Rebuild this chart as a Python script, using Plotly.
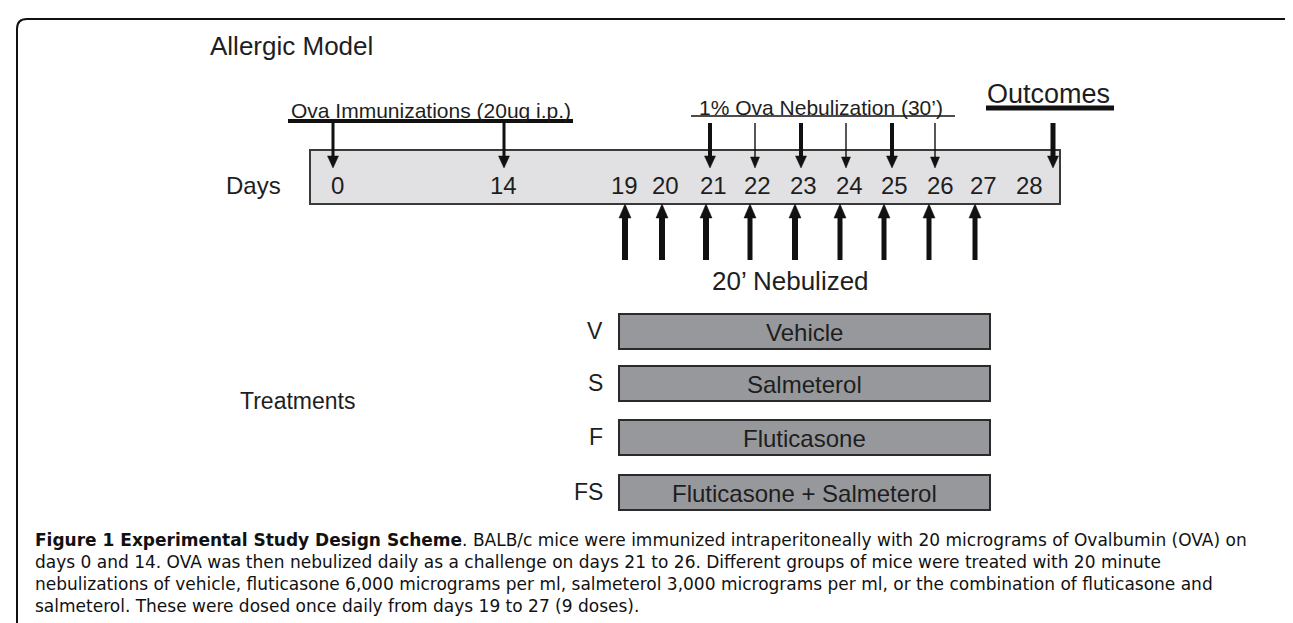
import plotly.graph_objects as go

# ---------------- data ----------------
timeline_days = [0, 14, 19, 20, 21, 22, 23, 24, 25, 26, 27, 28]
immunization_days = [0, 14]
nebulization_days = [21, 22, 23, 24, 25, 26]
nebulization_strong = [True, False, True, False, True, False]
outcome_days = [28]
treatment_days = [19, 20, 21, 22, 23, 24, 25, 26, 27]
treatment_codes = ["V", "S", "F", "FS"]
treatment_names = ["Vehicle", "Salmeterol", "Fluticasone", "Fluticasone + Salmeterol"]

caption_lines = [
    "<b>Figure 1 Experimental Study Design Scheme</b>. BALB/c mice were immunized intraperitoneally with 20 micrograms of Ovalbumin (OVA) on",
    "days 0 and 14. OVA was then nebulized daily as a challenge on days 21 to 26. Different groups of mice were treated with 20 minute",
    "nebulizations of vehicle, fluticasone 6,000 micrograms per ml, salmeterol 3,000 micrograms per ml, or the combination of fluticasone and",
    "salmeterol. These were dosed once daily from days 19 to 27 (9 doses).",
]

# ---------------- layout (pixel scale of the scheme) ----------------
W, H = 1293, 623
label_x = {0: 329, 14: 495, 19: 616, 20: 657, 21: 705, 22: 749, 23: 795,
           24: 841, 25: 886, 26: 932, 27: 975, 28: 1021}
down_x = {0: 325, 14: 496, 21: 702, 22: 747, 23: 793, 24: 838, 25: 884, 26: 927, 28: 1045}
up_x = {19: 617, 20: 654, 21: 698, 22: 742, 23: 787, 24: 832, 25: 876, 26: 921, 27: 967}

FONT = "Liberation Sans, Arial, Helvetica, sans-serif"
TXT = "#1e1e1e"
shapes = []
ann = []


def text(x, y, s, size, xanchor="center", family=FONT, color=TXT):
    ann.append(dict(x=x, y=y, xref="x", yref="y", text=s, showarrow=False,
                    xanchor=xanchor, yanchor="middle",
                    font=dict(family=family, size=size, color=color)))


def line(x0, y0, x1, y1, w, color="#111"):
    shapes.append(dict(type="line", x0=x0, y0=y0, x1=x1, y1=y1,
                       line=dict(color=color, width=w), layer="above"))


def head(x, ytip, direction, hw, hh):
    # direction: +1 pointing down, -1 pointing up
    yb = ytip - direction * hh
    shapes.append(dict(type="path",
                       path=f"M {x-hw} {yb} L {x+hw} {yb} L {x} {ytip} Z",
                       fillcolor="#111", line=dict(color="#111", width=0.5), layer="above"))


def arrow_down(x, y0, y1, w):
    hh = 12 if w > 2 else 11
    hw = 5.5 if w > 2 else 4.5
    line(x, y0, x, y1 - hh + 1, w)
    head(x, y1, 1, hw, hh)


def arrow_up(x, y0, y1, w):
    line(x, y0, x, y1 + 13, w)
    head(x, y1, -1, 6, 14)


# outer rounded frame
shapes.append(dict(type="path",
                   path="M 9 640 L 9 21 Q 9 11 19 11 L 1281 11 Q 1287 11 1289 17",
                   line=dict(color="#111", width=2)))

# title
text(200, 38, "Allergic Model", 26, xanchor="left")

# immunizations header
text(423, 102, "Ova Immunizations (20ug i.p.)", 21)
line(280, 113, 565, 113, 4)
# nebulization header
text(813, 99, "1% Ova Nebulization (30’)", 21)
line(683, 108, 947, 108, 1.6)
# outcomes header
text(1040, 86, "Outcomes", 27)
line(978, 100, 1106, 100, 5)

# timeline box
shapes.append(dict(type="rect", x0=302, y0=142, x1=1052, y1=196,
                   fillcolor="#e1e1e3", line=dict(color="#3a3a3a", width=2), layer="below"))
text(245, 177, "Days", 24)
for d in timeline_days:
    text(label_x[d], 177, str(d), 24)

# down arrows
for d in immunization_days:
    arrow_down(down_x[d], 115, 160, 3)
for d, strong in zip(nebulization_days, nebulization_strong):
    arrow_down(down_x[d], 115, 160, 4 if strong else 1.4)
for d in outcome_days:
    arrow_down(down_x[d], 115, 160, 5)

# up arrows (20' nebulized treatments)
up_w = [6, 6, 6, 5, 6, 5, 5, 5, 5]
for d, w in zip(treatment_days, up_w):
    arrow_up(up_x[d], 252, 196, w)
text(782, 273, "20’ Nebulized", 26)

# treatments
bar_x0 = up_x[treatment_days[0]] - 6
bar_x1 = up_x[treatment_days[-1]] + 15
row_top = [306, 358, 412, 467]
bar_h = 35
for code, name, top in zip(treatment_codes, treatment_names, row_top):
    shapes.append(dict(type="rect", x0=bar_x0, y0=top, x1=bar_x1, y1=top + bar_h,
                       fillcolor="#97989b", line=dict(color="#2a2a2a", width=2)))
    text((bar_x0 + bar_x1) / 2, top + bar_h / 2 + 1, name, 24)
    text(bar_x0 - 14, top + bar_h / 2 - 1, code, 23, xanchor="right")
text(289, 393, "Treatments", 23)

# caption (one multi-line text block)
cap_size = 17
ann.append(dict(x=25, y=520, xref="x", yref="y", text="<br>".join(caption_lines),
                showarrow=False, xanchor="left", yanchor="top", align="left",
                font=dict(family="DejaVu Sans, Open Sans, sans-serif", size=cap_size, color="#111")))

fig = go.Figure()
fig.add_trace(go.Scatter(x=[0, W], y=[0, H], mode="markers",
                         marker=dict(opacity=0), hoverinfo="skip", showlegend=False))
fig.update_layout(
    width=W, height=H, margin=dict(l=0, r=0, t=0, b=0),
    paper_bgcolor="white", plot_bgcolor="white",
    xaxis=dict(range=[0, W], visible=False, fixedrange=True),
    yaxis=dict(range=[H, 0], visible=False, fixedrange=True),
    shapes=shapes, annotations=ann, showlegend=False,
)
fig.write_html("out.html")
